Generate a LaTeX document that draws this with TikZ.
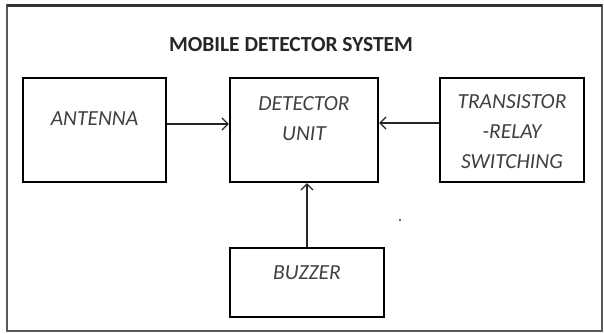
\documentclass[tikz,border=0pt]{standalone}
\usepackage{fontspec}
\setmainfont{Carlito}
\usepackage{tikz}
\usetikzlibrary{arrows.meta}

\tikzset{
  block/.style={draw, line width=2.2pt, rectangle, inner sep=0pt},
  lbl/.style={font=\fontsize{21.5}{30}\selectfont\itshape, text=black!75, align=center, inner sep=0pt},
  feed/.style={line width=1.3pt, black!85, -{Straight Barb[length=6pt, width=12pt, line width=1.3pt]}}
}

\begin{document}
\begin{tikzpicture}[x=1pt, y=-1pt]
        \useasboundingbox (0,0) rectangle (604,333);
        \draw[line width=2pt, black!65] (7,5) rectangle (602,331);
        \draw[line width=3pt, black!80] (7,5) -- (602,5);
        \node[font=\fontsize{21.5}{24}\selectfont\bfseries, text=black!85] (title) at (291,45) {MOBILE DETECTOR SYSTEM};

        % blocks
        \node[block, minimum width=143pt, minimum height=104pt] (antenna) at (94.5,130) {};
        \node[block, minimum width=148pt, minimum height=104pt] (detector) at (304,130) {};
        \node[block, minimum width=144pt, minimum height=104pt] (relay) at (512,130) {};
        \node[block, minimum width=154pt, minimum height=69pt] (buzzer) at (307,282.5) {};

        \node[lbl] (antennatext) at ([yshift=11pt]antenna.center) {ANTENNA};
        \node[lbl] (detectortext) at ([yshift=11pt]detector.center) {DETECTOR\\UNIT};
        \node[lbl] (relaytext) at ([yshift=-2pt]relay.center) {TRANSISTOR\\-RELAY\\SWITCHING};
        \node[lbl] (buzzertext) at ([yshift=10pt]buzzer.center) {BUZZER};

        % connectors
        \draw[feed] ([yshift=6pt]antenna.east) -- ([yshift=6pt]detector.west);
        \draw[feed] ([yshift=7pt]relay.west) -- ([yshift=7pt]detector.east);
        \draw[feed] (buzzer.north) -- (buzzer.north |- detector.south);

        \fill[black!80] (400,220) circle (1.2pt);
\end{tikzpicture}
\end{document}
